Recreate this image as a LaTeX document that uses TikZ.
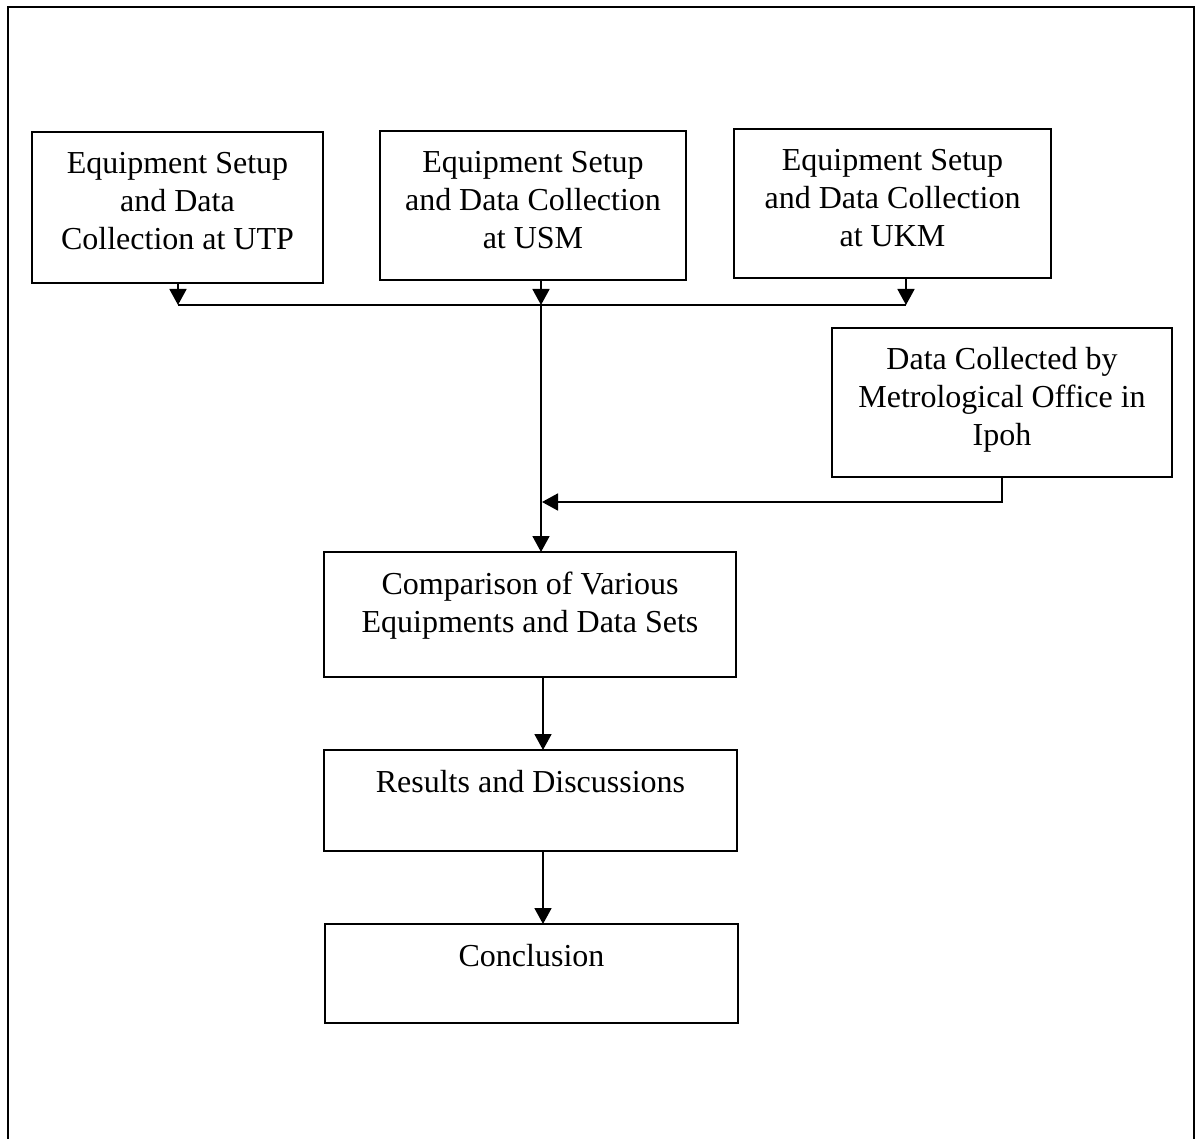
\documentclass[tikz,border=0pt]{standalone}
\usepackage{fontspec}
\setmainfont{Liberation Serif}
\usetikzlibrary{arrows.meta}
\newcommand\bxt[3]{\parbox[c][#2][t]{#1}{\centering\fontsize{16}{19}\selectfont\rule{0pt}{21pt}#3\par}}
\tikzset{
  box/.style={draw, line width=1pt, inner sep=0pt, outer sep=0pt},
  arr/.style={line width=0.9pt, -{Triangle[width=8.5pt,length=8pt]}},
  ln/.style={line width=0.9pt},
  frame/.style={line width=1.1pt}
}
\begin{document}
\begin{tikzpicture}[x=0.5pt,y=-0.5pt]
\useasboundingbox (0,0) rectangle (1200,1139);
\draw[frame] (8,1139) -- (8,7) -- (1194,7) -- (1194,1139);

\node[box] (utp) at (177.5,207.5) {\bxt{145.5pt}{75.5pt}{Equipment Setup\\and Data\\Collection at UTP}};
\node[box] (usm) at (533,205.5) {\bxt{153pt}{74.5pt}{Equipment Setup\\and Data Collection\\at USM}};
\node[box] (ukm) at (892.5,203.5) {\bxt{158.5pt}{74.5pt}{Equipment Setup\\and Data Collection\\at UKM}};
\node[box] (ipoh) at (1002,402.5) {\bxt{170pt}{74.5pt}{Data Collected by\\Metrological Office in\\Ipoh}};
\node[box] (comp) at (530,614.5) {\bxt{206pt}{62.5pt}{Comparison of Various\\Equipments and Data Sets}};
\node[box] (res) at (530.5,800.5) {\bxt{206.5pt}{50.5pt}{Results and Discussions}};
\node[box] (conc) at (531.5,973.5) {\bxt{206.5pt}{49.5pt}{Conclusion}};

\coordinate (j1) at (178,305);
\coordinate (j2) at (541,305);
\coordinate (j3) at (906,305);
\coordinate (j4) at (542,502);
\coordinate (cx) at (543,0);

\draw[arr] (j1 |- utp.south) -- (j1);
\draw[arr] (j2 |- usm.south) -- (j2);
\draw[arr] (j3 |- ukm.south) -- (j3);
\draw[ln] (j1) -- (j3);
\draw[arr] (j2) -- (j2 |- comp.north);
\draw[arr] (ipoh.south) |- (j4);
\draw[arr] (cx |- comp.south) -- (cx |- res.north);
\draw[arr] (cx |- res.south) -- (cx |- conc.north);
\end{tikzpicture}
\end{document}
